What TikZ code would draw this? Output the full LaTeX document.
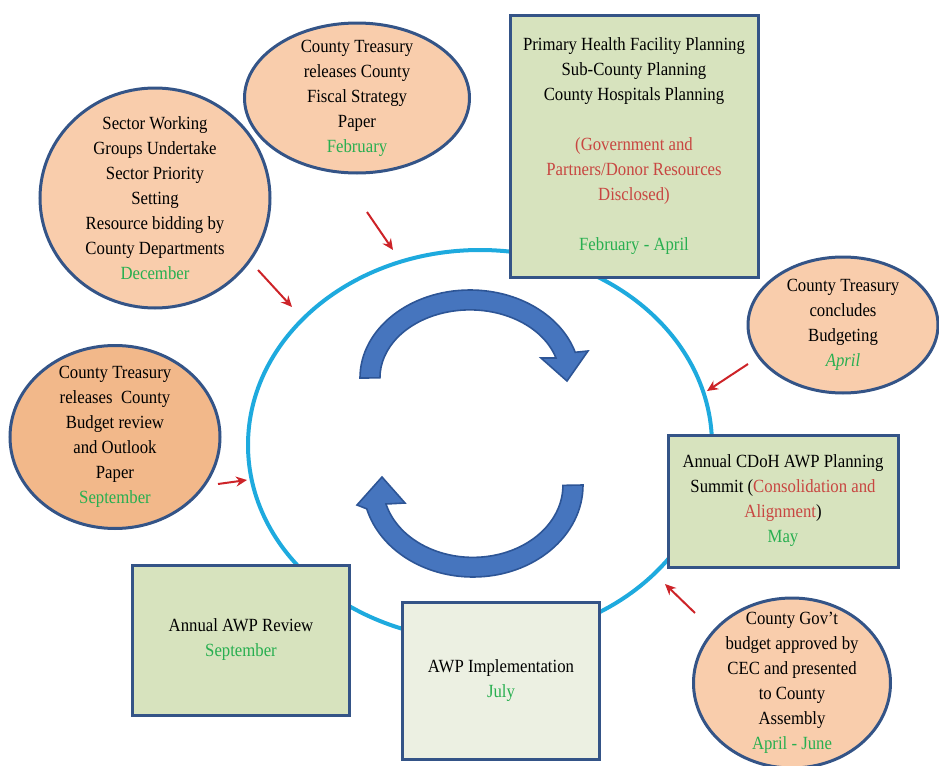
\documentclass[tikz,border=0pt]{standalone}
\usepackage{fontspec}
\setmainfont{Liberation Serif}[FakeStretch=0.9]
\usetikzlibrary{shapes.geometric,arrows.meta}

\definecolor{peach}{RGB}{249,205,172}
\definecolor{peachdark}{RGB}{242,184,138}
\definecolor{sage}{RGB}{215,227,190}
\definecolor{sagelight}{RGB}{236,240,226}
\definecolor{edgeblue}{RGB}{52,84,135}
\definecolor{ringblue}{RGB}{30,170,222}
\definecolor{swirl}{RGB}{70,117,190}
\definecolor{swirledge}{RGB}{45,85,150}
\definecolor{monthgreen}{RGB}{40,175,80}
\definecolor{notered}{RGB}{200,70,65}
\definecolor{pointred}{RGB}{205,35,40}

\newcommand\monthtxt[1]{{\color{monthgreen}#1}}
\newcommand\notetxt[1]{{\color{notered}#1}}

\tikzset{
  stage/.style={ellipse,draw=edgeblue,line width=1.5pt,fill=peach,inner sep=-10pt,
    align=center,font=\fontsize{9.3}{12.5}\selectfont},
  phase/.style={rectangle,draw=edgeblue,line width=1.5pt,fill=sage,inner sep=0pt,
    align=center,font=\fontsize{9.3}{12.5}\selectfont},
  pointer/.style={pointred,line width=1pt,-{Stealth[length=5.5pt,width=5pt]}},
  ring/.style={ringblue,line width=2pt},
  swirlarrow/.style={fill=swirl,draw=swirledge,line width=.8pt}
}

\begin{document}
\begin{tikzpicture}[x=.5pt,y=-.5pt]
\useasboundingbox (0,0) rectangle (939,766);
% planning cycle
\draw[ring] (480,445) ellipse [x radius=232,y radius=195];
% the two turning arrows in the middle
\filldraw[swirlarrow] (360,378) arc[start angle=180,end angle=343,x radius=110,y radius=88]
  -- (588,351) -- (567,381) -- (541,358) -- (556,358)
  arc[start angle=343,end angle=180,x radius=90,y radius=68] -- cycle;
\filldraw[swirlarrow] (583,485) arc[start angle=0,end angle=165,x radius=110,y radius=92]
  -- (357,505) -- (382,477) -- (405,503) -- (386,504)
  arc[start angle=165,end angle=0,x radius=90,y radius=72] -- cycle;
% treasury and sector stages
\node[stage,minimum width=115pt,minimum height=110pt] (sector) at (155,198)
  {Sector Working\\Groups Undertake\\Sector Priority\\Setting\\Resource bidding by\\County Departments\\\monthtxt{December}};
\node[stage,minimum width=112.5pt,minimum height=75pt] (fiscal) at (357,98)
  {County Treasury\\releases County\\Fiscal Strategy\\Paper\\\monthtxt{February}};
\node[stage,minimum width=95pt,minimum height=68pt] (budgeting) at (843,325)
  {County Treasury\\concludes\\Budgeting\\\monthtxt{\itshape April}};
\node[stage,fill=peachdark,minimum width=105pt,minimum height=91.5pt] (outlook) at (115,437)
  {County Treasury\\releases\ \ County\\Budget review\\and Outlook\\Paper\\\monthtxt{September}};
\node[stage,minimum width=98.5pt,minimum height=85pt] (approval) at (792,683)
  {County Gov't\\budget approved by\\CEC and presented\\to County\\Assembly\\\monthtxt{April - June}};
% health sector phases
\node[phase,minimum width=124pt,minimum height=131pt] (planning) at (634,146)
  {Primary Health Facility Planning\\Sub-County Planning\\County Hospitals Planning\\[12.5pt]
   \notetxt{(Government and}\\\notetxt{Partners/Donor Resources}\\\notetxt{Disclosed)}\\[12.5pt]
   \monthtxt{February - April}};
\node[phase,minimum width=115pt,minimum height=66pt] (summit) at (783,501)
  {Annual CDoH AWP Planning\\Summit (\notetxt{Consolidation and}\\\notetxt{Alignment})\\\monthtxt{May}};
\node[phase,minimum width=108.5pt,minimum height=75pt] (review) at (241,640)
  {Annual AWP Review\\\monthtxt{September}};
\node[phase,fill=sagelight,minimum width=98.5pt,minimum height=78.5pt] (rollout) at (501,681)
  {AWP Implementation\\\monthtxt{July}};
% red pointers onto the cycle
\foreach \xa/\ya/\xb/\yb [count=\i] in {258/270/292/307,367/212/393/250,748/364/707/391,
    218/484/247/480,695/613/665/584}{
  \coordinate (tail\i) at (\xa,\ya);
  \coordinate (tip\i) at (\xb,\yb);
  \draw[pointer] (tail\i) -- (tip\i);
}
\end{tikzpicture}
\end{document}
